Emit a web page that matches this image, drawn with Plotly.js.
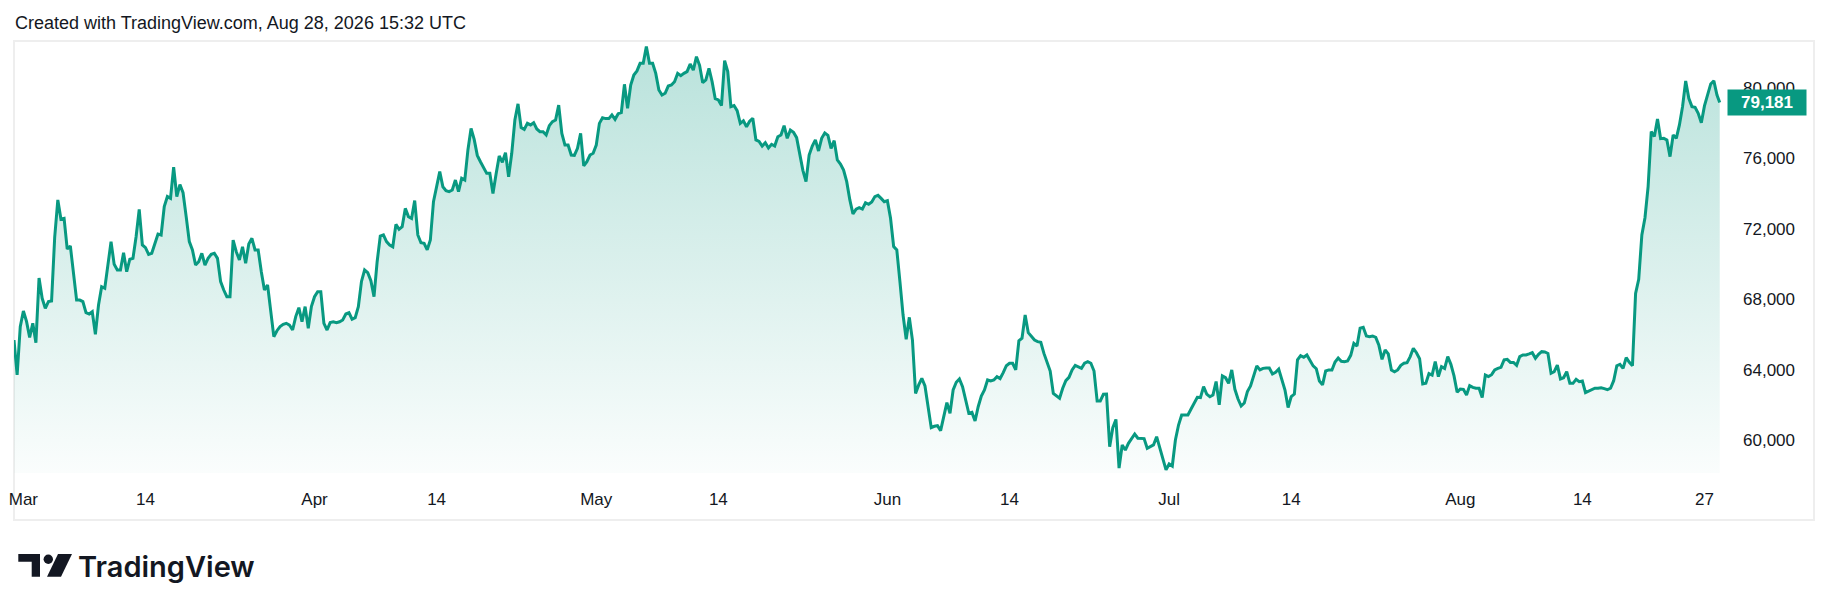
<!DOCTYPE html>
<html>
<head>
<meta charset="utf-8">
<script src="https://cdn.plot.ly/plotly-3.0.1.min.js"></script>
<style>html,body{margin:0;padding:0;background:#fff;}#chart{width:1830px;height:611px;}</style>
</head>
<body>
<div id="chart"></div>
<script>
// ---- data: 8-hourly closes ----
const marStart = '2026-02-28';
const marValues = [
65680,63700,66440,67330,66740,65830,66630,65530,69200,68050,
67480,67860,67900,71520,73640,72540,72590,70850,71020,69470,
67950,67950,67860,67230,67160,67290,66000,67670,68710,68620,
70040,71270,69980,69660,69660,70640,69560,70270,70320,71550,
73100,71080,70930,70550,70610,71170,71700,71650,73260,73830,
73730,75500,73830,74510,74050,72690,71270,70800,69940,70130,
70610,69940,70320,70550,70610,70320,69000,68520,68140,68140,
71360,70700,70230,70980,70040,71140,71460,70800,70800,69560,
68520,68810,67200,65870,66210,66440,66570,66630,66530,66250,
67010,67520,66720,67580,66340,67580];
const aprStart = '2026-04-01';
const aprValues = [
68140,68430,68430,66630,66250,66670,66720,66670,66720,66820,
67160,67230,66860,66950,67580,69010,69660,69510,69050,68140,
70130,71590,71650,71270,71080,70980,72250,71970,72120,73160,
72690,72590,73600,71650,71210,71170,70800,71360,73540,74390,
75250,74390,74170,74110,74200,74770,74110,74870,74770,76480,
77700,77080,76170,75810,75440,75150,75150,74000,75110,76140,
75780,76330,74960,76290,78180,79100,77750,77650,77990,77900,
78030,77670,77520,77520,77330,77860,78090,78180,79030,77420,
76760,76760,76190,76170,76570,77420,75570,75810,76190,76290];
const mayStart = '2026-05-01';
const mayValues = [
76760,77990,78310,78260,78260,78470,78220,78540,78600,80210,
78840,80170,80740,80970,81400,81400,82350,81400,81400,80830,
79890,79600,79700,80110,80170,80360,80830,80700,80830,80930,
81360,81020,81780,81290,80300,80460,81120,80360,79390,79320,
79000,81550,80930,78940,79000,78710,77990,78140,77800,78110,
78280,77050,76970,76700,76890,76590,76800,76700,77230,77330,
77860,77140,77610,77480,77180,76290,75320,74680,76190,76700,
77050,76420,77140,77440,77310,76570,77010,75910,75680,75340,
74680,73640,72840,73110,73200,73120,73480,73390,73520,73830,
73900,73730,73540];
const junStart = '2026-06-01';
const junValues = [
73600,72600,70990,70800,69000,67100,65720,66970,65680,62650,
63130,63500,63070,61890,60700,60780,60810,60530,61330,62120,
61520,62840,63280,63470,63030,62310,61520,61570,61080,61890,
62500,62840,63410,63350,63410,63600,63490,63830,64220,64360,
64360,63980,65640,65780,67100,66100,65890,65680,65590,65550,
64920,64360,63920,62650,62500,62370,62940,63370,63560,63980,
64240,64130,64070,64360,64450,64360,63920,62220,62220,62600,
62610,59620,60700,61170,58400,59720,59430,59810,60100,60340,
60100,60100,60080,59530,59620,59720,60190,59530,58960,58300];
const julStart = '2026-07-01';
const julValues = [
58640,58520,60000,60850,61420,61420,61420,61760,62100,62430,
62410,63030,62610,62460,62560,63320,62000,63640,63540,63220,
63980,62880,62330,61930,62100,62750,63070,63710,64210,63980,
64070,64090,64090,63750,63850,64030,63500,62840,61840,62460,
62610,64550,64790,64700,64830,64490,64210,64050,63350,63130,
63920,63980,63980,64430,64660,64470,64450,64490,64810,65490,
65340,66350,66400,65910,65870,65910,65830,65380,64580,65110,
64890,63980,63880,63980,64240,64360,64390,64740,65210,64960,
64620,63180,63220,63770,63690,64450,63600,64170,64070,64740,
64300,63640,62710];
const augStart = '2026-08-01';
const augValues = [
62900,62880,62560,63090,62990,62940,62940,62410,63690,63600,
63710,63980,64070,64130,64550,64580,64410,64410,64240,64740,
64830,64830,64890,64960,64640,64870,65020,65000,64920,63790,
63880,64260,63470,63540,63880,63220,63220,63450,63310,63350,
62690,62780,62860,62940,62940,62970,62920,62860,62940,63370,
64220,64300,64070,64680,64410,64220,68330,69130,71650,72630,
74390,77520,77240,78240,77120,77140,77050,76100,77330,77140,
77900,78940,80400,79410,78940,78900,78560,78030,78980,79600,
80230,80400,79600];
const lastTime = '2026-08-28 15:00';
const lastValue = 79181;

const xTickDates = ['2026-03-01','2026-03-14','2026-04-01','2026-04-14','2026-05-01','2026-05-14',
  '2026-06-01','2026-06-14','2026-07-01','2026-07-14','2026-08-01','2026-08-14','2026-08-27'];
const xTickLabels = ['Mar','14','Apr','14','May','14','Jun','14','Jul','14','Aug','14','27'];
const yTickVals = [60000,64000,68000,72000,76000,80000];
const yTickLabels = ['60,000','64,000','68,000','72,000','76,000','80,000'];
const titleText = 'Created with TradingView.com, Aug 28, 2026 15:32 UTC';
const lastLabel = '79,181';

// ---- build series ----
const STEP = 8 * 3600 * 1000;
function stamps(start, vals) {
  const t0 = Date.parse(start + 'T00:00:00Z');
  return vals.map((v, i) => new Date(t0 + i * STEP).toISOString().slice(0, 16).replace('T', ' '));
}
const blocks = [[marStart, marValues],[aprStart, aprValues],[mayStart, mayValues],
                [junStart, junValues],[julStart, julValues],[augStart, augValues]];
let xs = [], ys = [];
blocks.forEach(([s, v]) => { xs = xs.concat(stamps(s, v)); ys = ys.concat(v); });
xs.push(lastTime); ys.push(lastValue);

// ---- geometry helpers (decoration only) ----
const W = 1830, H = 611, L = 14, R = 1727, T = 41, B = 473;
const px = x => (x - L) / (R - L);
const py = y => (B - y) / (B - T);
const FONT = 'Liberation Sans, Arial, sans-serif';
const GREEN = '#089981';
const TXT = '#131722';

const yRange = [58125, 82670];

const trace = {
  type: 'scatter', mode: 'lines', x: xs, y: ys,
  line: {color: GREEN, width: 3, shape: 'linear'},
  fill: 'tozeroy',
  fillgradient: {type: 'vertical', start: yRange[0], stop: 82000,
    colorscale: [[0, 'rgba(8,153,129,0.02)'], [1, 'rgba(8,153,129,0.28)']]},
  hoverinfo: 'skip'
};

const logoPath = 'M ' + px(18.3) + ',' + py(554) + ' L ' + px(40) + ',' + py(554) + ' L ' + px(40) + ',' + py(576.7) +
  ' L ' + px(31.7) + ',' + py(576.7) + ' L ' + px(31.7) + ',' + py(561.7) + ' L ' + px(18.3) + ',' + py(561.7) + ' Z';
const slashPath = 'M ' + px(58) + ',' + py(554) + ' L ' + px(72) + ',' + py(554) + ' L ' + px(61) + ',' + py(576.7) +
  ' L ' + px(47) + ',' + py(576.7) + ' Z';

const layout = {
  width: W, height: H,
  margin: {l: L, r: W - R, t: T, b: H - B, pad: 0},
  paper_bgcolor: '#ffffff', plot_bgcolor: '#ffffff',
  showlegend: false,
  xaxis: {
    type: 'date', range: ['2026-02-28 00:00', '2026-08-29 09:36'],
    tickmode: 'array', tickvals: xTickDates, ticktext: xTickLabels,
    showgrid: false, zeroline: false, showline: false, ticks: '',
    tickfont: {family: FONT, size: 17, color: TXT}, ticklabelstandoff: 14
  },
  yaxis: {
    side: 'right', range: yRange,
    tickmode: 'array', tickvals: yTickVals, ticktext: yTickLabels,
    showgrid: false, zeroline: false, showline: false, ticks: '',
    tickfont: {family: FONT, size: 17, color: TXT}, ticklabelstandoff: 15
  },
  shapes: [
    {type: 'rect', xref: 'paper', yref: 'paper', x0: px(14), x1: px(1814), y0: py(520), y1: py(41),
     line: {color: '#eeeeee', width: 2}, fillcolor: 'rgba(0,0,0,0)', layer: 'below'},
    {type: 'path', xref: 'paper', yref: 'paper', path: logoPath, fillcolor: TXT, line: {width: 0}},
    {type: 'circle', xref: 'paper', yref: 'paper', x0: px(43.6), x1: px(53), y0: py(564), y1: py(554.6),
     fillcolor: TXT, line: {width: 0}},
    {type: 'path', xref: 'paper', yref: 'paper', path: slashPath, fillcolor: TXT, line: {width: 0}}
  ],
  annotations: [
    {xref: 'paper', yref: 'paper', x: px(13), y: py(23), xanchor: 'left', yanchor: 'middle',
     text: titleText, showarrow: false, font: {family: FONT, size: 18, color: TXT}},
    {xref: 'paper', yref: 'y', x: px(1767), y: lastValue, xanchor: 'center', yanchor: 'middle',
     text: lastLabel, showarrow: false, bgcolor: GREEN, width: 74, height: 21, borderpad: 2,
     font: {family: FONT, size: 17, color: '#ffffff', weight: 600}},
    {xref: 'paper', yref: 'paper', x: px(76), y: py(566), xanchor: 'left', yanchor: 'middle',
     text: 'TradingView', showarrow: false, font: {family: 'Inter, Noto Sans, sans-serif', size: 29, color: TXT, weight: 600}}
  ]
};

Plotly.newPlot('chart', [trace], layout, {staticPlot: true, displayModeBar: false});
</script>
</body>
</html>
